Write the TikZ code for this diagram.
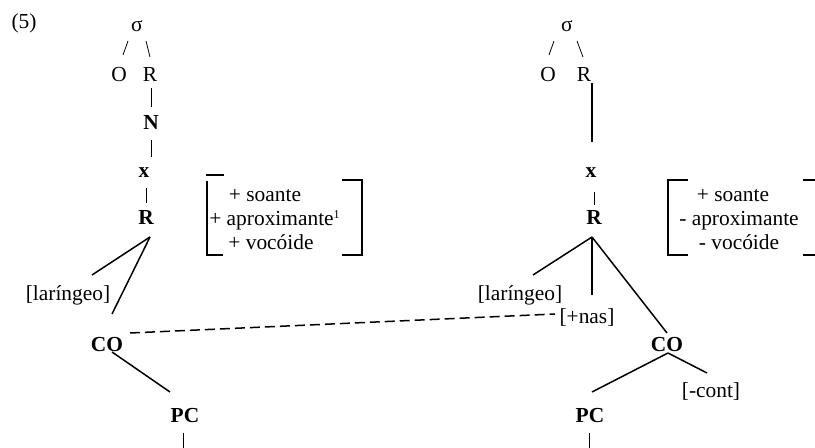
\documentclass[tikz,border=0pt]{standalone}
\usepackage{fontspec}
\setmainfont{Liberation Serif}
\begin{document}
\begin{tikzpicture}[x=0.5pt,y=-0.5pt,
  txt/.style={inner sep=0pt,anchor=base,font=\fontsize{10.7}{12.3}\selectfont},
  bld/.style={txt,font=\fontsize{10.7}{12.3}\selectfont\bfseries},
  thin/.style={line width=0.4pt},
  edge/.style={line width=0.75pt},
  brk/.style={line width=0.8pt},
  dsh/.style={line width=0.75pt,dash pattern=on 5pt off 2.5pt}]
\useasboundingbox (0,0) rectangle (815,448);
% label
\node[txt] (ex) at (24,29) {(5)};
% ---------- left tree ----------
\node[txt] (s1) at (137,32) {σ};
\node[txt] (O1) at (119,82) {O};
\node[txt] (Rh1) at (150,82) {R};
\node[bld] (N1) at (151,130) {N};
\node[bld] (x1) at (144,178) {x};
\node[bld] (R1) at (146,225) {R};
\node[txt] (lar1) at (68,301) {[laríngeo]};
\node[bld] (CO1) at (107,352) {CO};
\node[bld] (PC1) at (185,423) {PC};
% feature matrix left
\node[txt] (f1a) at (265,202) {+ soante};
\node[txt] (f1b) at (275,226) {+ aproximante\textsuperscript{\fontsize{6}{6}\selectfont 1}};
\node[txt] (f1c) at (271,250) {+ vocóide};
\draw[brk] (206,175) -- (224,175);
\draw[brk] (207,181) -- (207,255) -- (223,255);
\draw[brk] (342,180) -- (362,180) -- (362,255) -- (342,255);
% connection coordinates left
\coordinate (s1l) at (128,41); \coordinate (O1t) at (123,55);
\coordinate (s1r) at (146,41); \coordinate (Rh1t) at (150,57);
\coordinate (Rh1b) at (151,88); \coordinate (N1t) at (151,107);
\coordinate (N1b) at (151,140); \coordinate (x1t) at (151,157);
\coordinate (x1b) at (146,188); \coordinate (R1t) at (146,203);
\coordinate (R1b) at (150,237);
\coordinate (lar1t) at (92,275);
\coordinate (CO1t) at (112,314);
\coordinate (CO1b) at (112,352);
\coordinate (CO1r) at (130,333);
\coordinate (PC1t) at (170,392);
\coordinate (PC1b) at (183,433);
\coordinate (end1) at (183,448);
\draw[thin] (s1l) -- (O1t);
\draw[thin] (s1r) -- (Rh1t);
\draw[thin] (Rh1b) -- (N1t);
\draw[thin] (N1b) -- (x1t);
\draw[thin] (x1b) -- (R1t);
\draw[edge] (R1b) -- (lar1t);
\draw[edge] (R1b) -- (CO1t);
\draw[edge] (CO1b) -- (PC1t);
\draw[thin] (PC1b) -- (end1);
% ---------- right tree ----------
\node[txt] (s2) at (567,32) {σ};
\node[txt] (O2) at (548,82) {O};
\node[txt] (Rh2) at (584,82) {R};
\node[bld] (x2) at (591,178) {x};
\node[bld] (R2) at (594,225) {R};
\node[txt] (lar2) at (520,301) {[laríngeo]};
\node[txt] (nas2) at (587,324) {[+nas]};
\node[bld] (CO2) at (667,352) {CO};
\node[txt] (cont2) at (711,398) {[-cont]};
\node[bld] (PC2) at (590,423) {PC};
% feature matrix right
\node[txt] (f2a) at (733,202) {+ soante};
\node[txt] (f2b) at (739,226) {- aproximante};
\node[txt] (f2c) at (739,250) {- vocóide};
\draw[brk] (688,180) -- (668,180) -- (668,255) -- (688,255);
\draw[brk] (803,180) -- (815,180);
\draw[brk] (803,255) -- (815,255);
% connection coordinates right
\coordinate (s2l) at (554,41); \coordinate (O2t) at (549,55);
\coordinate (s2r) at (577,41); \coordinate (Rh2t) at (583,57);
\coordinate (Rh2b) at (592,83); \coordinate (x2t) at (592,142);
\coordinate (x2b) at (594,192); \coordinate (R2t) at (594,205);
\coordinate (R2b) at (592,237);
\coordinate (lar2t) at (533,275);
\coordinate (nas2t) at (592,295);
\coordinate (nas2l) at (555,314);
\coordinate (CO2t) at (667,333);
\coordinate (CO2b) at (668,353);
\coordinate (PC2t) at (592,392);
\coordinate (cont2t) at (707,373);
\coordinate (PC2b) at (589,433);
\coordinate (end2) at (589,448);
\draw[thin] (s2l) -- (O2t);
\draw[thin] (s2r) -- (Rh2t);
\draw[edge] (Rh2b) -- (x2t);
\draw[thin] (x2b) -- (R2t);
\draw[edge] (R2b) -- (lar2t);
\draw[edge] (R2b) -- (nas2t);
\draw[edge] (R2b) -- (CO2t);
\draw[edge] (CO2b) -- (PC2t);
\draw[edge] (CO2b) -- (cont2t);
\draw[thin] (PC2b) -- (end2);
% dashed association line
\draw[dsh] (CO1r) -- (nas2l);
\end{tikzpicture}
\end{document}
